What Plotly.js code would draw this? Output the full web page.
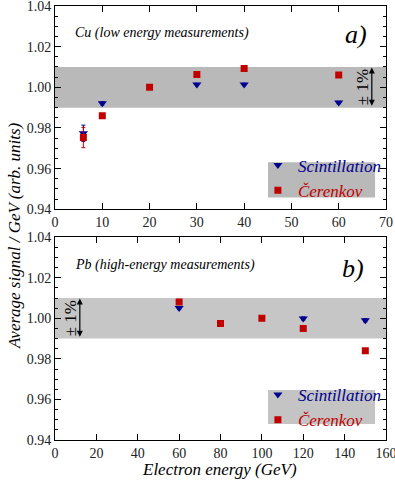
<!DOCTYPE html>
<html><head><meta charset="utf-8">
<script src="https://cdn.plot.ly/plotly-3.0.1.min.js"></script>
</head><body style="margin:0;padding:0;background:#fff"><div id="chart" style="width:395px;height:482px"></div>
<script>
// Panel a) Cu (low energy)
var cuEnergy_sc = [6, 10, 30, 40, 60];
var cuSignal_sc = [0.9774, 0.9921, 1.0014, 1.0014, 0.9925];
var cuErr_sc    = [0.004, 0.0008, 0.0006, 0.0006, 0.0006];
var cuEnergy_ce = [6, 10, 20, 30, 40, 60];
var cuSignal_ce = [0.9753, 0.9860, 1.0000, 1.0063, 1.0092, 1.0061];
var cuErr_ce    = [0.005, 0.0008, 0.0006, 0.0006, 0.0006, 0.0006];
// Panel b) Pb (high energy)
var pbEnergy_sc = [60, 120, 150];
var pbSignal_sc = [1.0051, 0.9999, 0.9990];
var pbErr_sc    = [0.0008, 0.0008, 0.0008];
var pbEnergy_ce = [60, 80, 100, 120, 150];
var pbSignal_ce = [1.0081, 0.9974, 1.0000, 0.9950, 0.9840];
var pbErr_ce    = [0.0006, 0.0006, 0.0006, 0.0006, 0.0006];
var yTicks = [0.94, 0.96, 0.98, 1.00, 1.02, 1.04];
var xTicksA = [0, 10, 20, 30, 40, 50, 60, 70];
var xTicksB = [0, 20, 40, 60, 80, 100, 120, 140, 160];

var BLUE = '#00008c', RED = '#c00000';
var SERIF = 'Times New Roman';

function tr(x, y, e, sym, col, xa, ya, leg, lname) {
  return {x: x, y: y, type: 'scatter', mode: 'markers', xaxis: xa, yaxis: ya,
    name: lname, legend: leg,
    marker: {symbol: sym, size: sym === 'square' ? 7 : 8, color: col},
    error_y: {type: 'data', array: e, visible: true, color: col, thickness: 1, width: 2}};
}
var nSc = '<span style="color:' + BLUE + '"><i>Scintillation</i></span>';
var nCe = '<span style="color:' + RED + '"><i>Čerenkov</i></span>';
var data = [
  tr(cuEnergy_sc, cuSignal_sc, cuErr_sc, 'triangle-down', BLUE, 'x', 'y', 'legend', nSc),
  tr(cuEnergy_ce, cuSignal_ce, cuErr_ce, 'square', RED, 'x', 'y', 'legend', nCe),
  tr(pbEnergy_sc, pbSignal_sc, pbErr_sc, 'triangle-down', BLUE, 'x2', 'y2', 'legend2', nSc),
  tr(pbEnergy_ce, pbSignal_ce, pbErr_ce, 'square', RED, 'x2', 'y2', 'legend2', nCe)
];

function ax(extra) {
  var o = {showline: true, linecolor: '#000', linewidth: 1, mirror: 'ticks',
    ticks: 'inside', ticklen: 6, tickcolor: '#000', showgrid: false, zeroline: false,
    ticklabeloverflow: 'allow',
    tickfont: {family: SERIF, size: 14, color: '#222'}};
  for (var k in extra) o[k] = extra[k];
  return o;
}
function yax(extra) {
  var o = ax({range: [0.94, 1.04], tickvals: yTicks, tickformat: '.2f',
    minor: {dtick: 0.005, ticks: 'inside', ticklen: 3, tickcolor: '#000'}});
  for (var k in extra) o[k] = extra[k];
  return o;
}

var layout = {
  width: 395, height: 482,
  margin: {l: 55, r: 9, t: 5.5, b: 42},
  font: {family: SERIF, color: '#000'},
  paper_bgcolor: '#fff', plot_bgcolor: 'rgba(0,0,0,0)',
  showlegend: true,
  xaxis: ax({range: [0, 70], tickvals: xTicksA, anchor: 'y'}),
  yaxis: yax({domain: [0.5316, 1], anchor: 'x'}),
  xaxis2: ax({range: [0, 160], tickvals: xTicksB, anchor: 'y2'}),
  yaxis2: yax({domain: [0, 0.4672], anchor: 'x2'}),
  legend: {x: 0.613, y: 0.674, xanchor: 'left', yanchor: 'top', bgcolor: 'rgba(0,0,0,0)',
    font: {family: SERIF, size: 17}, itemclick: false, tracegroupgap: 0},
  legend2: {x: 0.613, y: 0.145, xanchor: 'left', yanchor: 'top', bgcolor: 'rgba(0,0,0,0)',
    font: {family: SERIF, size: 17}, itemclick: false, tracegroupgap: 0},
  shapes: [
    {type: 'rect', xref: 'x domain', yref: 'y', x0: 0, x1: 1, y0: 0.99, y1: 1.01,
     fillcolor: '#b9b9b9', line: {width: 0}, layer: 'below'},
    {type: 'rect', xref: 'x2 domain', yref: 'y2', x0: 0, x1: 1, y0: 0.99, y1: 1.01,
     fillcolor: '#c6c6c6', line: {width: 0}, layer: 'below'},
    {type: 'rect', xref: 'paper', yref: 'paper', x0: 0.6435, x1: 0.967, y0: 0.559, y1: 0.640,
     fillcolor: '#b9b9b9', line: {width: 0}, layer: 'below'},
    {type: 'rect', xref: 'paper', yref: 'paper', x0: 0.6435, x1: 0.967, y0: 0.037, y1: 0.115,
     fillcolor: '#c4c4c4', line: {width: 0}, layer: 'below'}
  ],
  annotations: [
    {xref: 'x', yref: 'y', x: 3.8, y: 1.0265, xanchor: 'left', yanchor: 'middle', showarrow: false,
     text: '<i>Cu (low energy measurements)</i>', font: {family: SERIF, size: 14, color: '#000'}},
    {xref: 'x', yref: 'y', x: 63.6, y: 1.0262, xanchor: 'center', yanchor: 'middle', showarrow: false,
     text: '<i>a)</i>', font: {family: SERIF, size: 26, color: '#000'}},
    {xref: 'x2', yref: 'y2', x: 8.7, y: 1.0262, xanchor: 'left', yanchor: 'middle', showarrow: false,
     text: '<i>Pb (high-energy measurements)</i>', font: {family: SERIF, size: 14, color: '#000'}},
    {xref: 'x2', yref: 'y2', x: 144, y: 1.0245, xanchor: 'center', yanchor: 'middle', showarrow: false,
     text: '<i>b)</i>', font: {family: SERIF, size: 26, color: '#000'}},
    {xref: 'x', yref: 'y', x: 64.9, y: 1.0, textangle: -90, showarrow: false,
     text: '± 1%', font: {family: SERIF, size: 17, color: '#000'}},
    {xref: 'x2', yref: 'y2', x: 7.2, y: 1.0, textangle: -90, showarrow: false,
     text: '± 1%', font: {family: SERIF, size: 17, color: '#000'}},
    {xref: 'x', yref: 'y', axref: 'x', ayref: 'y', x: 67, y: 1.0098, ax: 67, ay: 0.9902,
     text: '', showarrow: true, arrowhead: 2, arrowside: 'end+start', arrowsize: 1, arrowwidth: 1.2, arrowcolor: '#000'},
    {xref: 'x2', yref: 'y2', axref: 'x2', ayref: 'y2', x: 12, y: 1.0098, ax: 12, ay: 0.9902,
     text: '', showarrow: true, arrowhead: 2, arrowside: 'end+start', arrowsize: 1, arrowwidth: 1.2, arrowcolor: '#000'},
    {xref: 'paper', yref: 'paper', x: -0.124, y: 0.472, textangle: -90, showarrow: false,
     xanchor: 'center', yanchor: 'middle',
     text: '<i>Average signal / GeV (arb. units)</i>', font: {family: SERIF, size: 17, color: '#000'}},
    {xref: 'paper', yref: 'paper', x: 0.498, y: -0.069, showarrow: false,
     xanchor: 'center', yanchor: 'middle',
     text: '<i>Electron energy (GeV)</i>', font: {family: SERIF, size: 17, color: '#000'}}
  ]
};
Plotly.newPlot('chart', data, layout, {displayModeBar: false});
</script></body></html>
